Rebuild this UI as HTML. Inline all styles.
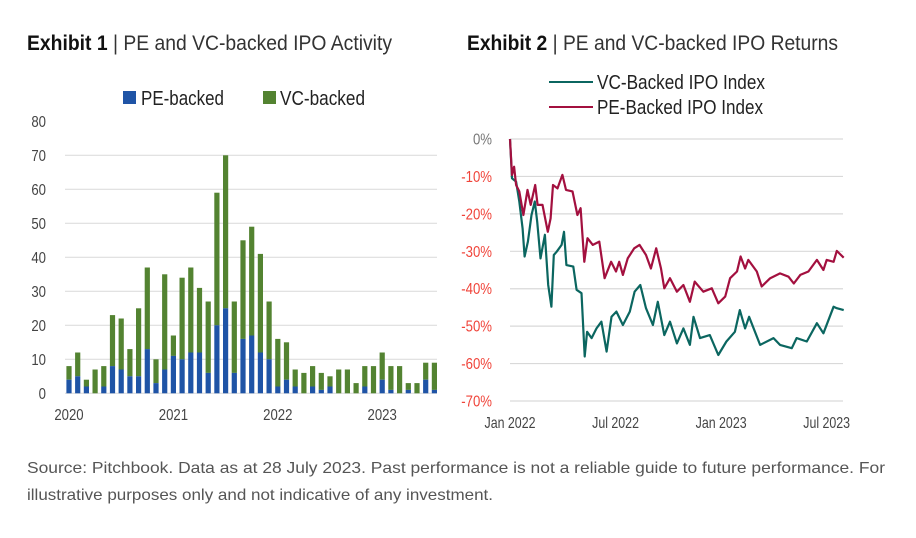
<!DOCTYPE html>
<html><head><meta charset="utf-8"><style>
body{margin:0;background:#fff;}
svg{display:block;font-family:"Liberation Sans Narrow","Liberation Sans",sans-serif;}
</style></head><body>
<svg id="root" width="916" height="538" viewBox="0 0 916 538">
<g>
<text x="27" y="50" font-size="21" fill="#111" textLength="365" lengthAdjust="spacingAndGlyphs"><tspan font-weight="bold">Exhibit 1</tspan><tspan fill="#333"> | PE and VC-backed IPO Activity</tspan></text>
</g>
<g>
<text x="467" y="50" font-size="21" fill="#111" textLength="371" lengthAdjust="spacingAndGlyphs"><tspan font-weight="bold">Exhibit 2</tspan><tspan fill="#333"> | PE and VC-backed IPO Returns</tspan></text>
</g>
<g>
<rect x="123" y="91" width="13" height="13" fill="#1f54a6"/>
<text x="141" y="105" font-size="20" fill="#222" textLength="83" lengthAdjust="spacingAndGlyphs">PE-backed</text>
<rect x="263" y="91" width="13" height="13" fill="#538331"/>
<text x="280" y="105" font-size="20" fill="#222" textLength="85" lengthAdjust="spacingAndGlyphs">VC-backed</text>
</g>
<g id="barChart"></g>
<g>
<line x1="549" y1="82" x2="593" y2="82" stroke="#0b6660" stroke-width="2"/>
<text x="597" y="89" font-size="20" fill="#222" textLength="168" lengthAdjust="spacingAndGlyphs">VC-Backed IPO Index</text>
<line x1="549" y1="107" x2="593" y2="107" stroke="#a3103f" stroke-width="2"/>
<text x="597" y="114" font-size="20" fill="#222" textLength="166" lengthAdjust="spacingAndGlyphs">PE-Backed IPO Index</text>
</g>
<g id="lineChart"></g>
<g>
<text x="27" y="473" font-size="16" fill="#555" textLength="858" lengthAdjust="spacingAndGlyphs">Source: Pitchbook. Data as at 28 July 2023. Past performance is not a reliable guide to future performance. For</text>
<text x="27" y="500" font-size="16" fill="#555" textLength="466" lengthAdjust="spacingAndGlyphs">illustrative purposes only and not indicative of any investment.</text>
</g>
</svg>
<script>
// Exhibit 1 data (monthly, Jan 2020 - Jul 2023)
const totals = [8,12,4,7,8,23,22,13,25,37,10,35,17,34,37,31,27,59,70,27,45,49,41,27,16,15,7,6,8,6,5,7,7,3,8,8,12,8,8,3,3,9,9];
const peValues = [4,5,2,0,2,8,7,5,5,13,3,7,11,10,12,12,6,20,25,6,16,17,12,10,2,4,2,0,2,1,2,0,0,0,2,0,4,1,0,1,0,4,1];
const barTicks = [0,10,20,30,40,50,60,70,80];
const yearLabels = ["2020","2021","2022","2023"];
// Exhibit 2 data (weeks since Jan 2022, % return)
const peWeeks = [0,0.5,1,1.5,2.3,3.3,4.3,5.1,6.2,6.8,8,9.3,10,10.6,11.7,12.9,13.8,15.4,16.6,17.4,18.3,19.1,20.4,22,23.3,24.9,26.1,26.9,27.8,29,30.6,31.9,33.5,34.7,36,37.2,38,39.4,41.1,42.7,44.3,45.5,47.6,49.7,51.3,53,54.2,55.9,56.8,57.9,58.7,60.8,62,64.1,66.5,68.6,69.9,71.5,73.5,75.6,77.2,78,79.7,80.5,82.2];
const peReturns = [0,-9.6,-7.4,-12.3,-14,-20.3,-13.6,-17.6,-12.3,-17.6,-17.6,-24.8,-21.2,-12.3,-13.2,-9.6,-13.6,-14,-20.3,-18.5,-32.8,-26.5,-28.3,-27.4,-37.2,-32.8,-35.4,-32.8,-36.3,-31.9,-29.2,-28.3,-31,-34.6,-29.2,-34.6,-39.9,-37.2,-40.8,-39,-43.5,-38.1,-40.8,-39.9,-43.9,-42.1,-37.2,-35.4,-31.4,-34.6,-32.3,-35.4,-39.4,-37.2,-35.9,-36.8,-38.6,-36.3,-35.4,-32.3,-35,-32.3,-32.8,-29.9,-31.7];
const vcWeeks = [0,0.5,1.5,2.3,3.1,3.6,4.4,5.3,6.1,6.7,7.5,8.6,9.4,10.2,10.8,11.5,12.7,13.3,13.9,15.6,16.4,17.6,18.4,19,20.1,21.3,22.5,23.8,25,26.2,27.8,29.5,30.7,32.1,33.5,35.2,36.4,38,39.4,41.1,42.7,44.3,45.2,46.8,49.2,51.3,53.3,55.4,56.6,57.9,58.9,61.6,64.9,66.5,69.4,70.6,73.1,75.6,77.2,79.7,80.5,82.2];
const vcReturns = [0,-10.5,-11.4,-16.7,-23.9,-31.4,-27.4,-20.3,-16.7,-22.1,-31.9,-25.6,-39,-44.8,-31,-30.1,-28.3,-24.8,-33.7,-34.1,-40.3,-41.2,-58.1,-51.5,-53.2,-50.6,-48.8,-56.8,-47.5,-46.1,-49.7,-46.1,-40.8,-39,-45.2,-49.7,-43.5,-52.4,-48.8,-54.6,-50.6,-55,-47.5,-53.2,-52.4,-57.7,-54.1,-51.5,-45.7,-50.6,-47.5,-55,-53.2,-55,-55.9,-53.2,-54.1,-49.2,-51.9,-44.8,-45.2,-45.7];
const lineTicks = [0,-10,-20,-30,-40,-50,-60,-70];
const dateLabels = ["Jan 2022","Jul 2022","Jan 2023","Jul 2023"];
const dateLabelWeeks = [0,26,52,78];

const NS="http://www.w3.org/2000/svg";
function mk(tag,attrs,parent){const e=document.createElementNS(NS,tag);for(const k in attrs)e.setAttribute(k,attrs[k]);parent.appendChild(e);return e;}

// Bar chart
const bg=document.getElementById('barChart');
const by=v=>393.3-v*3.4;
const bx=i=>69+i*8.7;
barTicks.forEach(t=>{
  if(t<80){
    const l=mk('line',{x1:65,x2:437,y1:by(t),y2:by(t),stroke:'#d9d9d9','stroke-width':1},bg);
    
    
  }
  const tx=mk('text',{x:46,y:by(t)+5.5,'font-size':15.5,'text-anchor':'end',fill:'#444',transform:'translate(46 0) scale(0.85 1) translate(-46 0)'},bg);
  tx.textContent=t;
  
  
});
totals.forEach((tot,i)=>{
  const pe=peValues[i];
  const g=mk('rect',{x:bx(i)-2.6,y:by(tot),width:5.2,height:by(pe)-by(tot),fill:'#538331'},bg);
  
  
  if(pe>0){
    const b=mk('rect',{x:bx(i)-2.6,y:by(pe),width:5.2,height:by(0)-by(pe),fill:'#1f54a6'},bg);
    
    
  }
});
yearLabels.forEach((y,k)=>{
  const cx=bx(k*12);
  const tx=mk('text',{x:cx,y:420,'font-size':15.5,'text-anchor':'middle',fill:'#444',transform:'translate('+cx+' 0) scale(0.85 1) translate('+(-cx)+' 0)'},bg);
  tx.textContent=y;
  
  
});

// Line chart
const lg=document.getElementById('lineChart');
const lyy=v=>139+(-v)*3.743;
const lx=w=>510+w*4.06;
lineTicks.forEach(t=>{
  const l=mk('line',{x1:510,x2:843,y1:lyy(t),y2:lyy(t),stroke:'#d9d9d9','stroke-width':1.2},lg);
  
  
  const tx=mk('text',{x:492,y:lyy(t)+5.5,'font-size':15.5,'text-anchor':'end',fill:t===0?'#777':'#f0443a',transform:'translate(492 0) scale(0.85 1) translate(-492 0)'},lg);
  tx.textContent=t+'%';
  
  
});
dateLabels.forEach((d,k)=>{
  const cx=lx(dateLabelWeeks[k]);
  const tx=mk('text',{x:cx,y:428,'font-size':15.5,'text-anchor':'middle',fill:'#444',transform:'translate('+cx+' 0) scale(0.8 1) translate('+(-cx)+' 0)'},lg);
  tx.textContent=d;
  
  
});
const vcPath=mk('path',{d:vcWeeks.map((w,i)=>(i?'L':'M')+lx(w).toFixed(1)+','+lyy(vcReturns[i]).toFixed(1)).join(''),fill:'none',stroke:'#0b6660','stroke-width':2.2,'stroke-linejoin':'round'},lg);


const pePath=mk('path',{d:peWeeks.map((w,i)=>(i?'L':'M')+lx(w).toFixed(1)+','+lyy(peReturns[i]).toFixed(1)).join(''),fill:'none',stroke:'#a3103f','stroke-width':2.2,'stroke-linejoin':'round'},lg);


</script>
</body></html>
